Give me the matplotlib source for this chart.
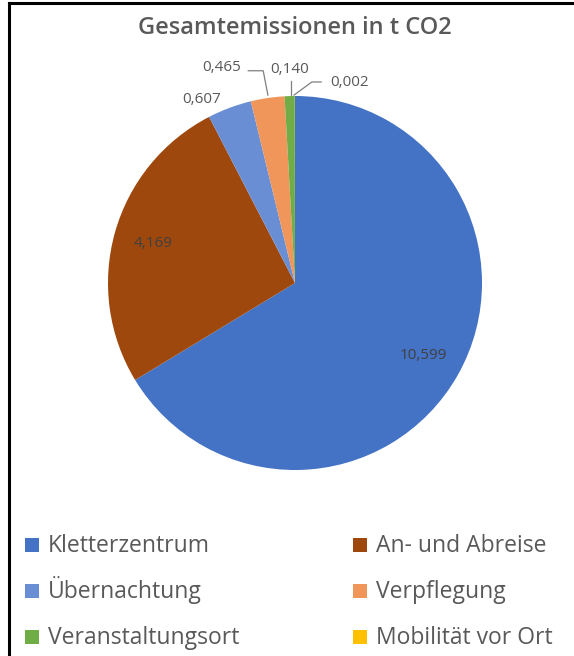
import numpy as np
import matplotlib.pyplot as plt
from matplotlib.patches import Rectangle

plt.rcParams['font.family'] = ['Open Sans', 'DejaVu Sans']

categories = ["Kletterzentrum", "An- und Abreise", "Übernachtung",
              "Verpflegung", "Veranstaltungsort", "Mobilität vor Ort"]
values = [10.599, 4.169, 0.607, 0.465, 0.140, 0.002]
labels = ["10,599", "4,169", "0,607", "0,465", "0,140", "0,002"]
colors = ["#4472C4", "#9E480E", "#6A8ED3", "#F1965B", "#70AD47", "#FFC000"]

grey = "#595959"

W, H = 574, 656
fig = plt.figure(figsize=(W / 100, H / 100), dpi=100)

# pie axes: centre ~(295,283) px, radius ~187 px
cx, cy, r = 295, 283, 187
ax = fig.add_axes([(cx - r) / W, (H - cy - r) / H, 2 * r / W, 2 * r / H])
wedges, _ = ax.pie(values, colors=colors, startangle=90, counterclock=False,
                   radius=1, wedgeprops=dict(linewidth=0))
ax.set_xlim(-1, 1)
ax.set_ylim(-1, 1)
ax.set_aspect('equal')
ax.axis('off')

# inside labels
for i in range(2):
    w = wedges[i]
    ang = np.deg2rad((w.theta1 + w.theta2) / 2)
    ax.text(0.79 * np.cos(ang), 0.79 * np.sin(ang), labels[i],
            ha='center', va='center', fontsize=11, color="#404040")

# outside labels (layout positions in axes data units)
out_pos = {2: (-0.5, 0.98), 3: (-0.39, 1.15), 4: (-0.03, 1.14), 5: (0.29, 1.07)}
for i, (tx, ty) in out_pos.items():
    ax.text(tx, ty, labels[i], ha='center', va='center', fontsize=11,
            color=grey, clip_on=False)

lc = dict(color="#7f7f7f", lw=0.9, clip_on=False)
ax.plot([-0.25, -0.17, -0.145], [1.135, 1.135, 1.005], **lc)
ax.plot([-0.02, -0.02], [1.08, 1.005], **lc)
ax.plot([0.14, 0.09, -0.005], [1.075, 1.075, 1.005], **lc)

fig.text(0.513, 1 - 28 / H, "Gesamtemissionen in t CO2", ha='center', va='center',
         fontsize=17, fontweight='semibold', color=grey)

# legend, row-wise, two columns (drawn by hand for exact placement)
col_x = [25, 353]
row_y = [545, 591, 637]
box = 14
for i, (name, c) in enumerate(zip(categories, colors)):
    px = col_x[i % 2]
    py = row_y[i // 2]
    fig.add_artist(Rectangle((px / W, (H - py - box / 2) / H), box / W, box / H,
                             facecolor=c, edgecolor='none', transform=fig.transFigure))
    fig.text((px + box + 9) / W, (H - py - 7) / H, name, ha='left', va='baseline',
             fontsize=16.5, color=grey)

# outer frame (left and top edges)
fig.add_artist(plt.Line2D([9 / W, 9 / W], [0, 1 - 3 / H], color='black', lw=2.2,
                          transform=fig.transFigure))
fig.add_artist(plt.Line2D([9 / W, 1], [1 - 3 / H, 1 - 3 / H], color='black', lw=2.2,
                          transform=fig.transFigure))

fig.savefig("out.png", dpi=100, facecolor='white')
